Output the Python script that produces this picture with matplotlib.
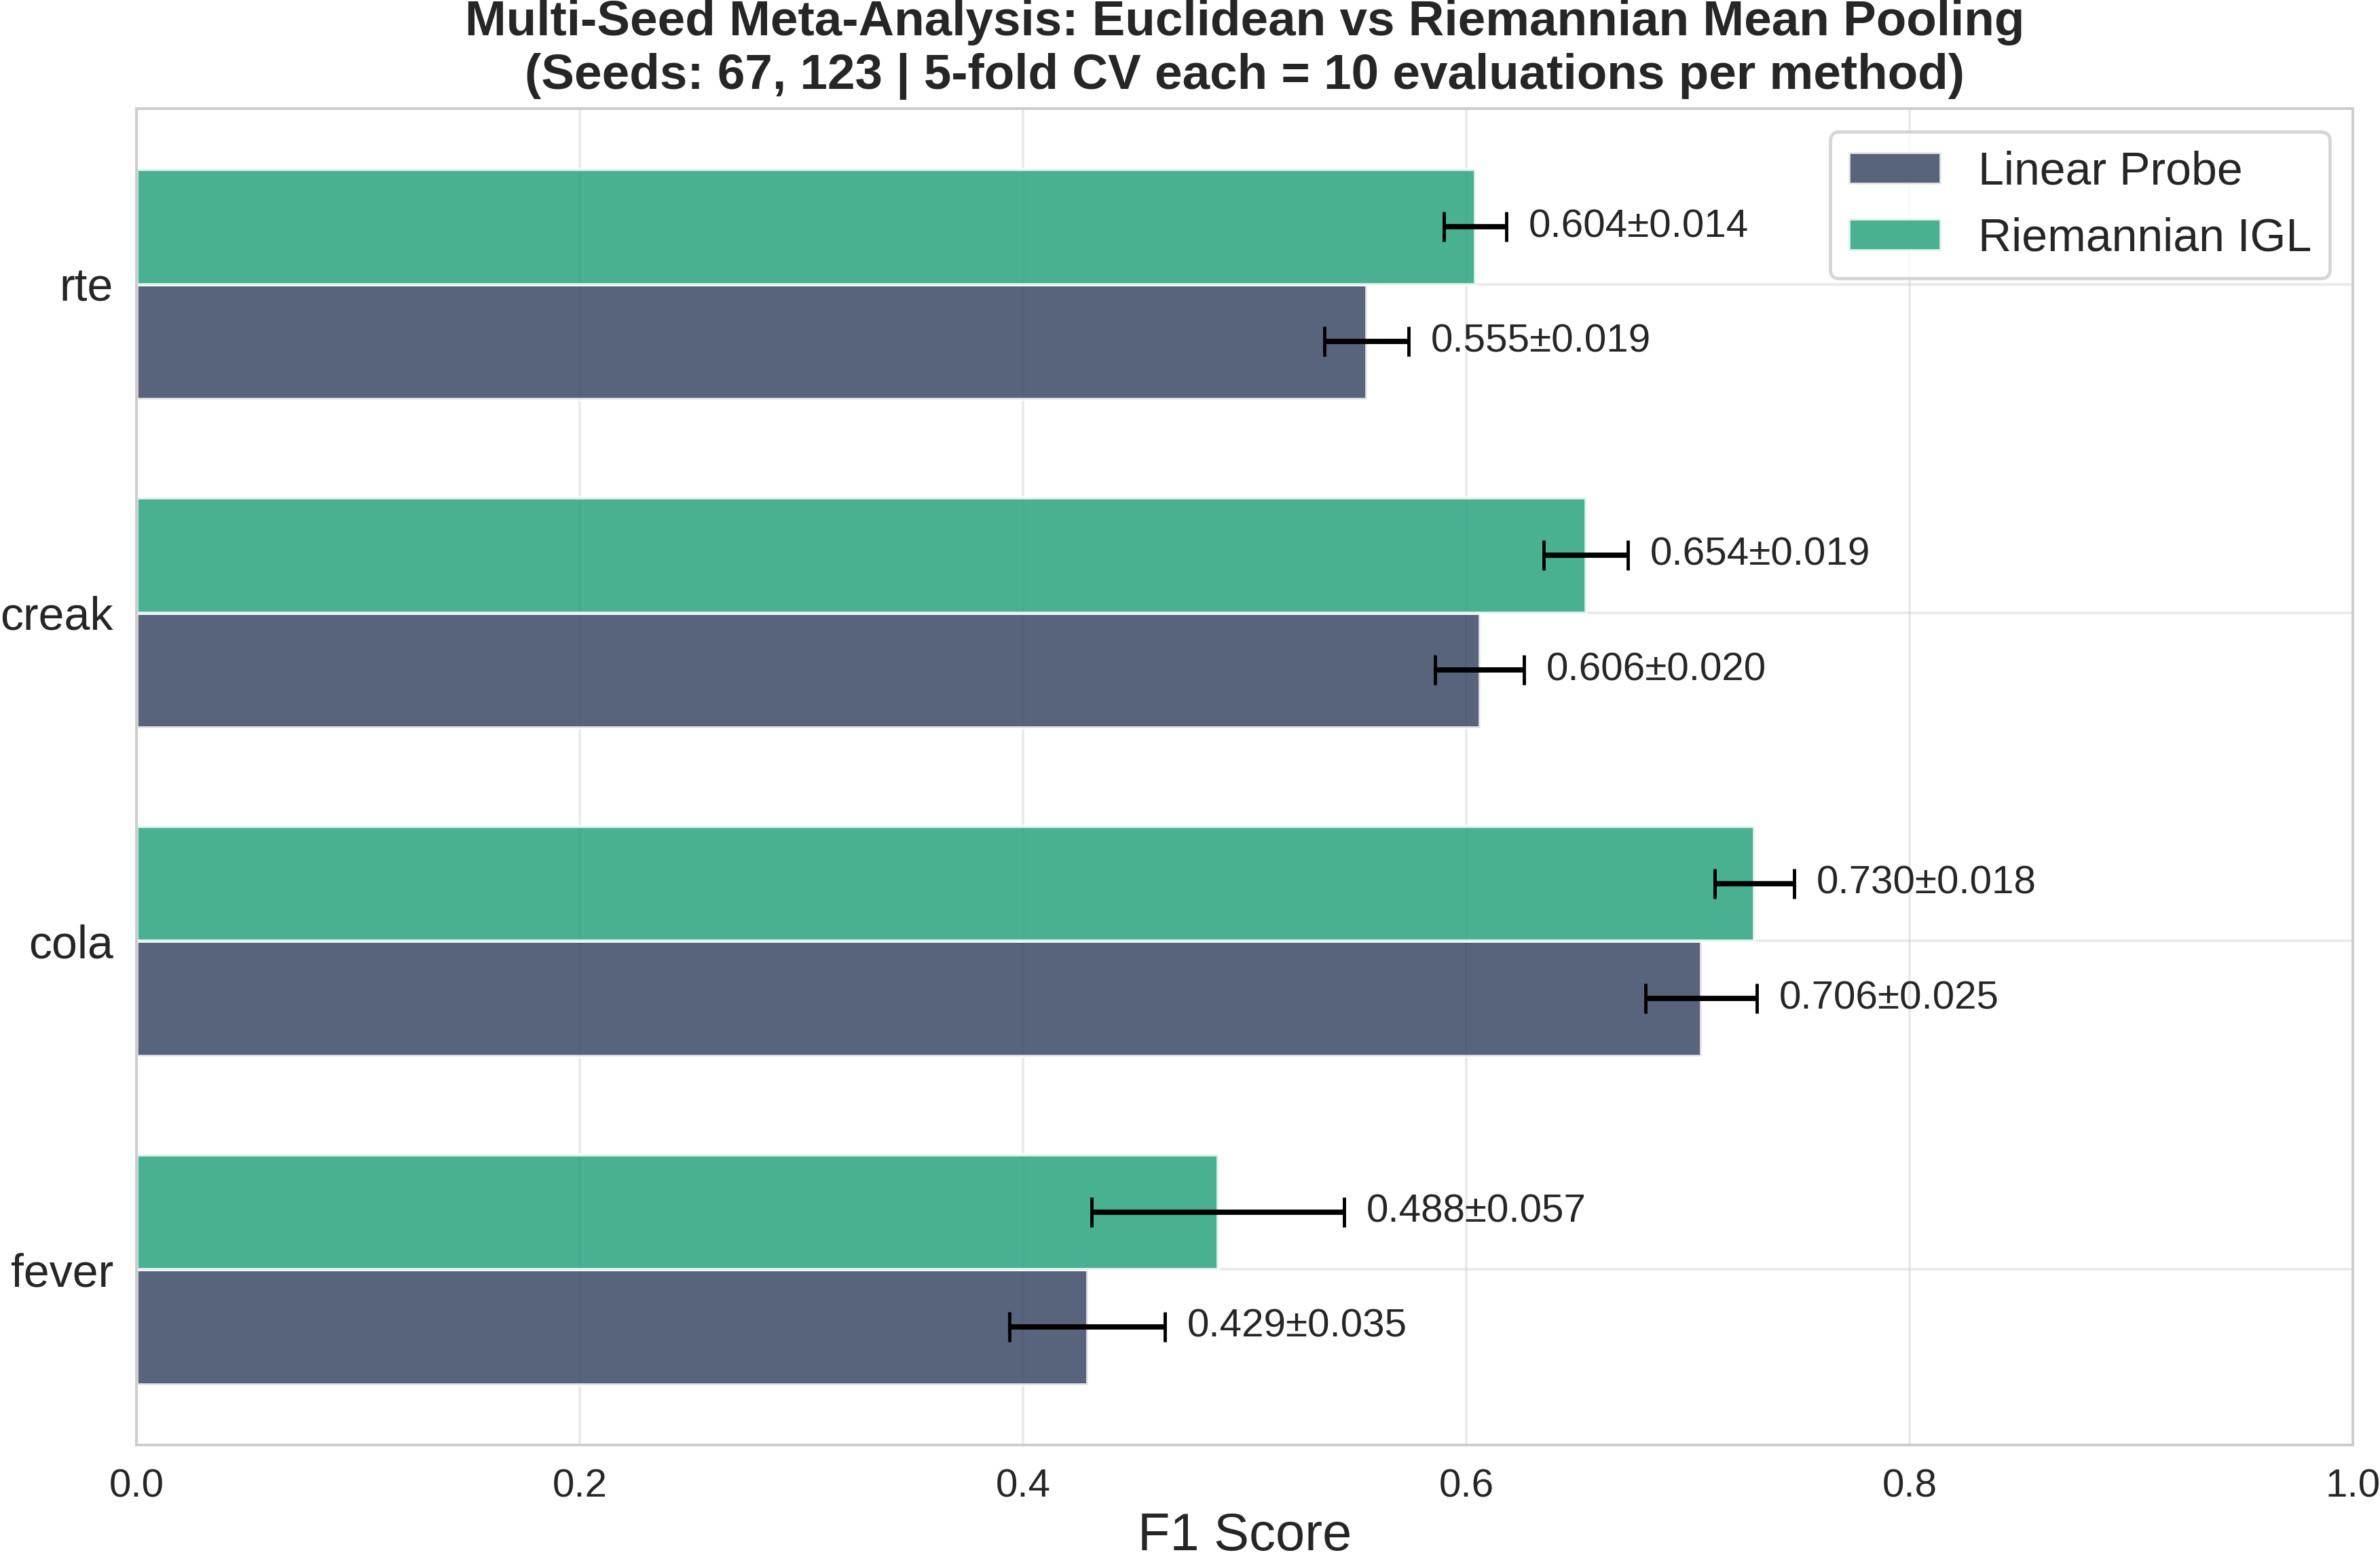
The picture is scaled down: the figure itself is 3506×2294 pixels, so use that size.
import numpy as np
import seaborn as sns
import matplotlib.pyplot as plt

sns.set_style("whitegrid")
plt.rcParams["font.family"] = ["Liberation Sans", "DejaVu Sans"]

tasks = ["fever", "cola", "creak", "rte"]
linear_mean = [0.429, 0.706, 0.606, 0.555]
linear_std = [0.035, 0.025, 0.020, 0.019]
riemann_mean = [0.488, 0.730, 0.654, 0.604]
riemann_std = [0.057, 0.018, 0.019, 0.014]

y = np.arange(len(tasks))
h = 0.35

fig, ax = plt.subplots(figsize=(3506 / 350, 2294 / 350))
fig.subplots_adjust(left=0.0573, right=0.9886, top=0.9303, bottom=0.0719)

ax.barh(
    y - h / 2, linear_mean, h,
    xerr=linear_std, capsize=4.5,
    error_kw=dict(elinewidth=1.6, capthick=1, ecolor="black"),
    color="#2E3D5B", alpha=0.8, edgecolor="white", linewidth=1,
    label="Linear Probe",
)
ax.barh(
    y + h / 2, riemann_mean, h,
    xerr=riemann_std, capsize=4.5,
    error_kw=dict(elinewidth=1.6, capthick=1, ecolor="black"),
    color="#1b9e77", alpha=0.8, edgecolor="white", linewidth=1,
    label="Riemannian IGL",
)

# value labels just past the error bars
for i in range(len(tasks)):
    ax.text(linear_mean[i] + linear_std[i] + 0.01, y[i] - h / 2,
            f"{linear_mean[i]:.3f}±{linear_std[i]:.3f}",
            va="center", ha="left", fontsize=12)
    ax.text(riemann_mean[i] + riemann_std[i] + 0.01, y[i] + h / 2,
            f"{riemann_mean[i]:.3f}±{riemann_std[i]:.3f}",
            va="center", ha="left", fontsize=12)

ax.set_yticks(y)
ax.set_yticklabels(tasks, fontsize=14)
ax.tick_params(axis="x", labelsize=12)
ax.set_xlim(0, 1.0)
ax.set_xlabel("F1 Score", fontsize=16, labelpad=2)
ax.set_title(
    "Multi-Seed Meta-Analysis: Euclidean vs Riemannian Mean Pooling\n"
    "(Seeds: 67, 123 | 5-fold CV each = 10 evaluations per method)",
    fontsize=15, fontweight="bold",
)
ax.grid(True, alpha=0.4)
ax.legend(loc="upper right", fontsize=14)

fig.savefig("out.png", dpi=350)
